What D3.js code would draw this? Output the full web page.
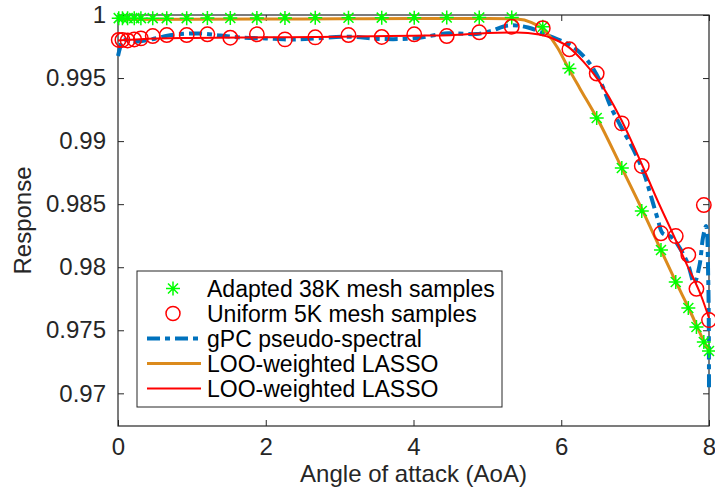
<!DOCTYPE html>
<html>
<head>
<meta charset="utf-8">
<script src="https://cdn.jsdelivr.net/npm/d3@7"></script>
<style>
  body { margin: 0; background: #fff; }
  svg { display: block; font-family: "Liberation Sans", Arial, Helvetica, sans-serif; }
</style>
</head>
<body>
<div id="chart"></div>
<script>
// sample locations (AoA) shared by both sample sets
const sampleAoA = [0.01, 0.06, 0.13, 0.22, 0.31, 0.47, 0.66, 0.93, 1.21, 1.52, 1.88, 2.26, 2.67, 3.12, 3.57,
  4.01, 4.45, 4.89, 5.33, 5.75, 6.11, 6.48, 6.82, 7.09, 7.35, 7.55, 7.72, 7.83, 7.93, 8.0];

const adaptedSamples = [0.99975, 0.99975, 0.99975, 0.99975, 0.99975, 0.99975, 0.99975, 0.99975, 0.99976, 0.99976,
  0.99977, 0.99977, 0.99978, 0.99978, 0.99979, 0.99979, 0.9998, 0.9998, 0.9998, 0.99907,
  0.99576, 0.99183, 0.98787, 0.98446, 0.98136, 0.97883, 0.97676, 0.97526, 0.97407, 0.97336];

const uniformSamples = [0.99802, 0.99802, 0.99798, 0.99806, 0.99815, 0.99833, 0.99841, 0.99841, 0.99847, 0.9982,
  0.99847, 0.99807, 0.99823, 0.99841, 0.99826, 0.99847, 0.99833, 0.99863, 0.99907, 0.99895,
  0.99728, 0.99536, 0.99141, 0.98803, 0.98269, 0.98247, 0.98097, 0.97829, 0.98493, 0.97581];

// gPC pseudo-spectral curve
const gpcX = [0.0, 0.027, 0.064, 0.15, 0.27, 0.45, 0.65, 0.85, 1.12, 1.39, 1.66, 2.0, 2.34, 2.68, 3.11, 3.56,
  4.01, 4.47, 4.85, 5.05, 5.28, 5.55, 5.86, 6.13, 6.36, 6.54, 6.67, 6.81, 6.98, 7.12, 7.21, 7.31, 7.37,
  7.49, 7.58, 7.71, 7.80, 7.87, 7.92, 7.96, 7.99, 8.0];
const gpcY = [0.99675, 0.99738, 0.99802, 0.99798, 0.9979, 0.99806, 0.99833, 0.99849, 0.99853, 0.99837, 0.99822,
  0.99814, 0.99806, 0.99814, 0.99828, 0.9981, 0.99815, 0.99855, 0.99849, 0.99873, 0.99917, 0.99901, 0.99828,
  0.99758, 0.99635, 0.99458, 0.99273, 0.99113, 0.9893, 0.98745, 0.98573, 0.98374, 0.98271, 0.9824, 0.98176,
  0.98033, 0.97875, 0.9801, 0.9824, 0.98327, 0.97899, 0.9701];

// LOO-weighted LASSO fit on the adapted samples
const looAdaptedX = [0, 1, 2, 3, 4, 5, 5.4, 5.6, 5.8, 5.95, 6.1, 6.25, 6.5, 6.8, 7.1, 7.35, 7.55, 7.75, 7.9, 8.0];
const looAdaptedY = [0.99964, 0.99966, 0.99968, 0.9997, 0.99972, 0.99972, 0.99968, 0.9994, 0.99862, 0.9974,
  0.99575, 0.9942, 0.99165, 0.9881, 0.9845, 0.98135, 0.97885, 0.97645, 0.9745, 0.9734];

// LOO-weighted LASSO fit on the uniform samples
const looUniformX = [0, 0.3, 1, 2, 3, 4, 4.5, 5, 5.4, 5.7, 5.9, 6.1, 6.3, 6.5, 6.8, 7.1, 7.3, 7.5, 7.7, 7.9, 8.0];
const looUniformY = [0.99798, 0.99808, 0.99818, 0.99823, 0.99828, 0.99836, 0.9984, 0.99858, 0.99862, 0.99845,
  0.9981, 0.99745, 0.9963, 0.99485, 0.99183, 0.98803, 0.98533, 0.98279, 0.98021, 0.97764, 0.97597];

const xTicks = [0, 2, 4, 6, 8];
const yTicks = [0.97, 0.975, 0.98, 0.985, 0.99, 0.995, 1];

const legendLabels = ["Adapted 38K mesh samples", "Uniform 5K mesh samples", "gPC pseudo-spectral",
  "LOO-weighted LASSO", "LOO-weighted LASSO"];

const width = 715, height = 494;
const margin = { top: 15, right: 6, bottom: 68, left: 118 };
const axisColor = "#262626";

const svg = d3.select("#chart").append("svg")
  .attr("width", width)
  .attr("height", height);

const x = d3.scaleLinear().domain([0, 8]).range([margin.left, width - margin.right]);
const y = d3.scaleLinear().domain([0.96741, 1]).range([height - margin.bottom, margin.top]);

// axes box with inward ticks on all four sides
const tickLen = 6;
svg.append("g")
  .attr("transform", `translate(0,${height - margin.bottom})`)
  .call(d3.axisBottom(x).tickValues(xTicks).tickSizeInner(-tickLen).tickSizeOuter(0).tickPadding(12))
  .call(g => g.select(".domain").remove())
  .call(g => g.selectAll("line").attr("stroke", axisColor))
  .call(g => g.selectAll("text").attr("fill", axisColor).style("font-size", "24px"));

svg.append("g")
  .attr("transform", `translate(0,${margin.top})`)
  .call(d3.axisTop(x).tickValues(xTicks).tickSizeInner(-tickLen).tickSizeOuter(0).tickFormat(""))
  .call(g => g.select(".domain").remove())
  .call(g => g.selectAll("line").attr("stroke", axisColor));

svg.append("g")
  .attr("transform", `translate(${margin.left},0)`)
  .call(d3.axisLeft(y).tickValues(yTicks).tickSizeInner(-tickLen).tickSizeOuter(0).tickPadding(12)
    .tickFormat(d => d3.format("")(+d.toFixed(3))))
  .call(g => g.select(".domain").remove())
  .call(g => g.selectAll("line").attr("stroke", axisColor))
  .call(g => g.selectAll("text").attr("fill", axisColor).style("font-size", "24px"));

svg.append("g")
  .attr("transform", `translate(${width - margin.right},0)`)
  .call(d3.axisRight(y).tickValues(yTicks).tickSizeInner(-tickLen).tickSizeOuter(0).tickFormat(""))
  .call(g => g.select(".domain").remove())
  .call(g => g.selectAll("line").attr("stroke", axisColor));

svg.append("rect")
  .attr("x", margin.left).attr("y", margin.top)
  .attr("width", width - margin.left - margin.right)
  .attr("height", height - margin.top - margin.bottom)
  .attr("fill", "none").attr("stroke", axisColor).attr("stroke-width", 1.2);

// axis labels
svg.append("text")
  .attr("x", (margin.left + width - margin.right) / 2)
  .attr("y", 482)
  .attr("text-anchor", "middle")
  .attr("fill", axisColor)
  .style("font-size", "24px")
  .text("Angle of attack (AoA)");

svg.append("text")
  .attr("transform", `translate(31,${(margin.top + height - margin.bottom) / 2}) rotate(-90)`)
  .attr("text-anchor", "middle")
  .attr("fill", axisColor)
  .style("font-size", "24px")
  .text("Response");

// lines
const line = d3.line().x(d => x(d[0])).y(d => y(d[1]));
const smooth = d3.line().x(d => x(d[0])).y(d => y(d[1])).curve(d3.curveMonotoneX);

svg.append("path")
  .datum(gpcX.map((v, i) => [v, gpcY[i]]))
  .attr("d", line.curve(d3.curveCatmullRom.alpha(0.5)))
  .attr("fill", "none").attr("stroke", "#0072BD").attr("stroke-width", 4)
  .attr("stroke-dasharray", "13,5,5,5");

svg.append("path")
  .datum(looAdaptedX.map((v, i) => [v, looAdaptedY[i]]))
  .attr("d", smooth)
  .attr("fill", "none").attr("stroke", "#DB8A1C").attr("stroke-width", 3);

svg.append("path")
  .datum(looUniformX.map((v, i) => [v, looUniformY[i]]))
  .attr("d", smooth)
  .attr("fill", "none").attr("stroke", "#ff0000").attr("stroke-width", 2);

// markers
const starPath = "M-7,0H7M0,-7V7M-5,-5L5,5M-5,5L5,-5";

svg.append("g").selectAll("path")
  .data(sampleAoA.map((v, i) => [v, adaptedSamples[i]]))
  .enter().append("path")
  .attr("transform", d => `translate(${x(d[0])},${y(d[1])})`)
  .attr("d", starPath)
  .attr("stroke", "#00ff00").attr("stroke-width", 1.5).attr("fill", "none");

svg.append("g").selectAll("circle")
  .data(sampleAoA.map((v, i) => [v, uniformSamples[i]]))
  .enter().append("circle")
  .attr("cx", d => x(d[0])).attr("cy", d => y(d[1]))
  .attr("r", 7.2)
  .attr("stroke", "#ff0000").attr("stroke-width", 1.5).attr("fill", "none");

// legend
const legend = svg.append("g").attr("transform", "translate(137,271)");
legend.append("rect")
  .attr("width", 365).attr("height", 136)
  .attr("fill", "#fff").attr("stroke", axisColor).attr("stroke-width", 1);

const rowY = i => 17.5 + i * 25;
legend.append("path").attr("transform", `translate(36,${rowY(0)})`).attr("d", starPath)
  .attr("stroke", "#00ff00").attr("stroke-width", 1.5).attr("fill", "none");
legend.append("circle").attr("cx", 36).attr("cy", rowY(1)).attr("r", 7)
  .attr("stroke", "#ff0000").attr("stroke-width", 1.5).attr("fill", "none");
legend.append("line").attr("x1", 10).attr("x2", 64).attr("y1", rowY(2)).attr("y2", rowY(2))
  .attr("stroke", "#0072BD").attr("stroke-width", 4).attr("stroke-dasharray", "13,5,5,5");
legend.append("line").attr("x1", 10).attr("x2", 64).attr("y1", rowY(3)).attr("y2", rowY(3))
  .attr("stroke", "#DB8A1C").attr("stroke-width", 3);
legend.append("line").attr("x1", 10).attr("x2", 64).attr("y1", rowY(4)).attr("y2", rowY(4))
  .attr("stroke", "#ff0000").attr("stroke-width", 2);

legend.selectAll("text.lab")
  .data(legendLabels)
  .enter().append("text")
  .attr("class", "lab")
  .attr("x", 70)
  .attr("y", (d, i) => rowY(i) + 8)
  .style("font-size", "23px")
  .attr("fill", "#000")
  .text(d => d);
</script>
</body>
</html>
